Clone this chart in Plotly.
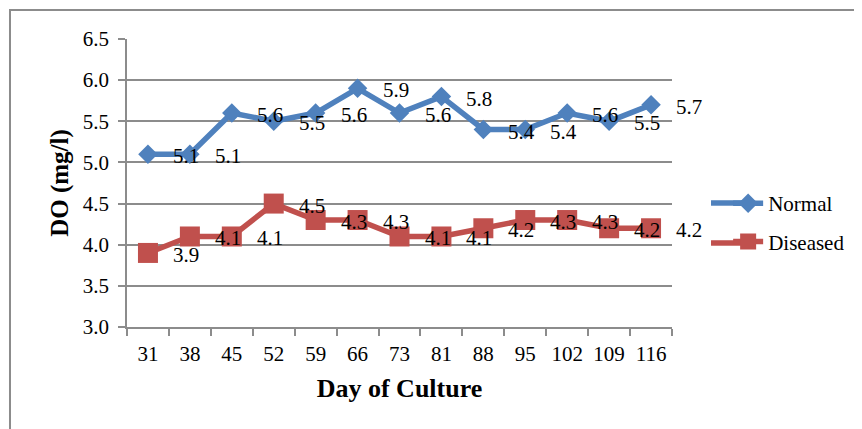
import plotly.graph_objects as go

days = ["31", "38", "45", "52", "59", "66", "73", "81", "88", "95", "102", "109", "116"]
normal = [5.1, 5.1, 5.6, 5.5, 5.6, 5.9, 5.6, 5.8, 5.4, 5.4, 5.6, 5.5, 5.7]
diseased = [3.9, 4.1, 4.1, 4.5, 4.3, 4.3, 4.1, 4.1, 4.2, 4.3, 4.3, 4.2, 4.2]
y_ticks = [3.0, 3.5, 4.0, 4.5, 5.0, 5.5, 6.0, 6.5]

FONT = "Liberation Serif, Times New Roman, serif"
BLUE = "#4F81BD"
RED = "#C0504D"
GRID = "#8C8C8C"
FS = 21

fig = go.Figure()
fig.add_trace(go.Scatter(
    x=days, y=normal, name="Normal", mode="lines+markers",
    line=dict(color=BLUE, width=5.5),
    marker=dict(symbol="diamond", size=15, color=BLUE),
    legendgroup="a",
))
fig.add_trace(go.Scatter(
    x=days, y=diseased, name="Diseased", mode="lines+markers",
    line=dict(color=RED, width=5.5),
    marker=dict(symbol="square", size=20, color=RED),
    legendgroup="b",
))

annotations = []
for series in (normal, diseased):
    for i, v in enumerate(series):
        annotations.append(dict(
            x=i, y=v, xref="x", yref="y", text=f"{v:.1f}", showarrow=False,
            xshift=38, yshift=-2, font=dict(family=FONT, size=FS, color="black"),
        ))

# longer legend key lines (decoration)
legend_ext = []
for col, yp in ((BLUE, 0.4306), (RED, 0.2917)):
    legend_ext.append(dict(
        type="line", xref="paper", yref="paper",
        x0=1.0716, x1=1.13, y0=yp, y1=yp,
        line=dict(color=col, width=5.5), layer="above",
    ))

# plot area: page x 127..672, y 39..327 (page has 8px body margin)
fig.update_layout(
    width=862, height=429,
    margin=dict(l=119, r=198, t=31, b=110),
    paper_bgcolor="white", plot_bgcolor="white",
    font=dict(family=FONT, size=FS, color="black"),
    showlegend=True,
    legend=dict(
        x=1.103, y=0.50, xanchor="left", yanchor="top",
        font=dict(family=FONT, size=FS, color="black"),
        traceorder="grouped", tracegroupgap=8,
        bgcolor="rgba(0,0,0,0)",
    ),
    annotations=annotations,
    shapes=[dict(
        type="rect", xref="paper", yref="paper",
        x0=-0.2147, x1=1.7, y0=-0.7, y1=1.1007,
        line=dict(color="#8C8C8C", width=2), fillcolor="rgba(0,0,0,0)", layer="below",
    )] + legend_ext,
)

fig.update_xaxes(
    type="category", tickson="boundaries", range=[-0.5, len(days) - 0.5],
    showline=True, linecolor=GRID, linewidth=1.5,
    ticks="outside", ticklen=7, tickcolor=GRID, tickwidth=1.5,
    showgrid=False, tickangle=0,
    tickfont=dict(family=FONT, size=FS, color="black"),
    ticklabelstandoff=7,
    title=dict(text="<b>Day of Culture</b>", font=dict(family=FONT, size=26, color="black"), standoff=14),
)
fig.update_yaxes(
    range=[3.0, 6.5], tickvals=y_ticks, tickformat=".1f",
    showline=True, linecolor=GRID, linewidth=1.5,
    ticks="outside", ticklen=7, tickcolor=GRID, tickwidth=1.5,
    showgrid=True, gridcolor=GRID, gridwidth=1.5,
    zeroline=False,
    tickfont=dict(family=FONT, size=FS, color="black"),
    ticklabelstandoff=5,
    title=dict(text="<b>DO (mg/l)</b>", font=dict(family=FONT, size=25, color="black"), standoff=7),
)

fig.write_html("out.html")
